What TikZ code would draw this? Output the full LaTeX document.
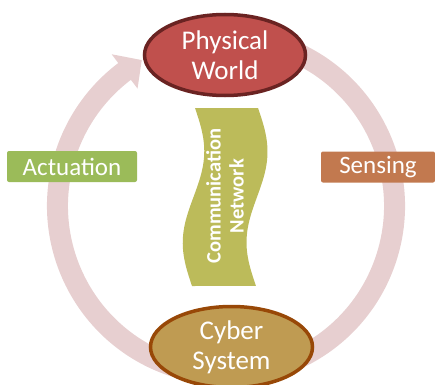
\documentclass[tikz,border=0pt]{standalone}
\usepackage{fontspec}
\setmainfont{Carlito}
\usetikzlibrary{calc,shapes.geometric}
\definecolor{ringpink}{RGB}{231,207,208}
\definecolor{worldfill}{RGB}{192,80,77}
\definecolor{worlddraw}{RGB}{106,35,34}
\definecolor{cyberfill}{RGB}{191,155,82}
\definecolor{cyberdraw}{RGB}{152,72,7}
\definecolor{actfill}{RGB}{155,187,89}
\definecolor{sensefill}{RGB}{194,121,79}
\definecolor{netfill}{RGB}{188,187,90}
\begin{document}
\begin{tikzpicture}[x=1pt,y=1pt,
  hub/.style={ellipse, line width=3.5pt, minimum width=161pt, minimum height=81pt,
    inner sep=0pt, text=white, align=center, font=\fontsize{27}{30}\selectfont},
  tag/.style={rectangle, rounded corners=2pt, text=white, minimum height=31pt,
    inner sep=0pt, font=\fontsize{25}{30}\selectfont}]
\useasboundingbox (0,0) rectangle (435,384);

% circular cycle arrow behind everything
\coordinate (C) at (226,178);
\draw[ringpink, line width=21pt] ($(C)+(70:168.5)$)
  arc[start angle=70, end angle=-233.5, radius=168.5];
\fill[ringpink] ($(C)+(127:190)$) -- ($(C)+(120:168.5)$) -- ($(C)+(127:147)$) -- cycle;

% wavy communication banner
\fill[netfill] (195,276) -- (258,276)
  -- plot[domain=0:1, samples=60] ({258-2*\x+10*sin(360*\x)},{276-178*\x})
  -- plot[domain=0:1, samples=60] ({192+3*\x+10*sin(360*(1-\x))},{98+178*\x})
  -- cycle;
\node[rotate=90, align=center, text=white, inner sep=0pt,
  font=\bfseries\fontsize{20.5}{23}\selectfont] (net) at (225,188)
  {Communication\\Network};

% main blocks
\node[hub, fill=worldfill, draw=worlddraw] (world) at (225,329) {Physical\\World};
\node[hub, fill=cyberfill, draw=cyberdraw, minimum width=162pt] (cyber) at (231.5,37) {Cyber\\System};

% side labels
\node[tag, fill=actfill, minimum width=130pt] (act) at (72,217.5) {Actuation};
\node[tag, fill=sensefill, minimum width=114pt] (sense) at (378,217) {Sensing};
\end{tikzpicture}
\end{document}
